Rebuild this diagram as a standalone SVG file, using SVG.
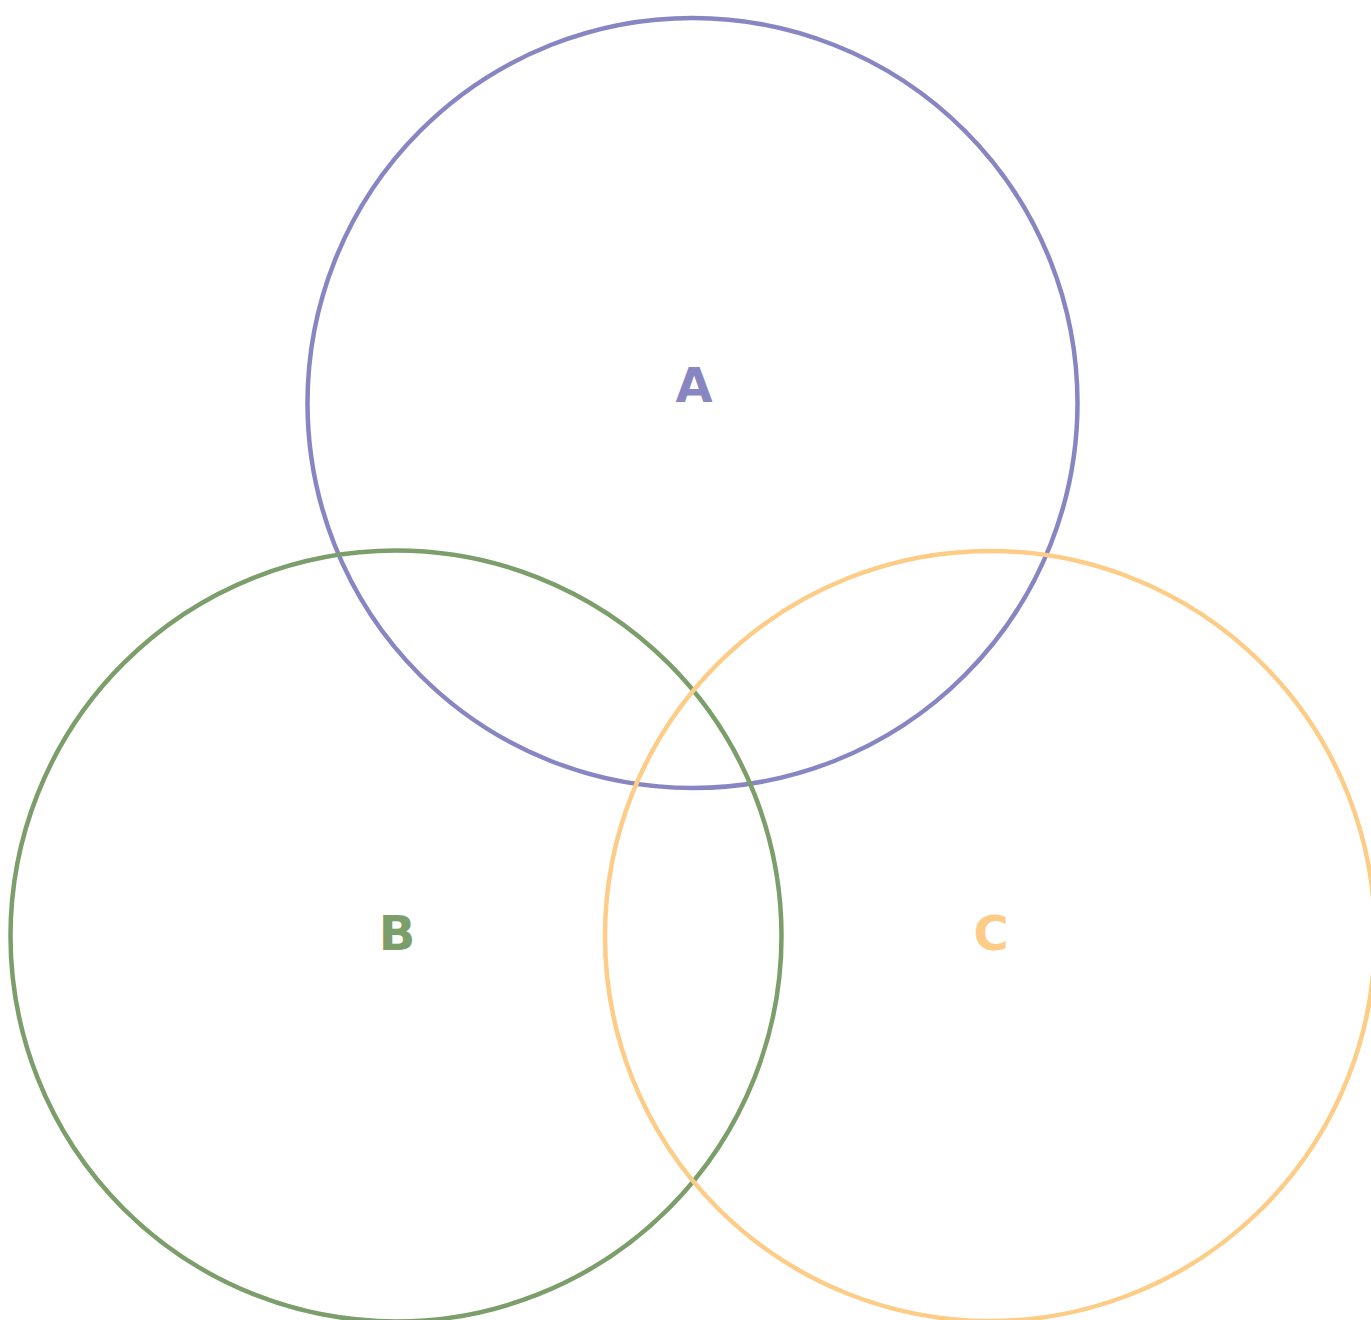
<svg xmlns="http://www.w3.org/2000/svg" width="1371" height="1320" viewBox="0 0 1371 1320">
<style>
.c{fill:none;stroke-width:4.5}
.t{font-family:"DejaVu Sans",sans-serif;font-weight:bold;font-size:48px;text-anchor:middle}
</style>
<rect width="1371" height="1320" fill="#ffffff"/>
<g id="A"><circle class="c" cx="692.5" cy="403" r="385" stroke="#8886c2"/><text class="t" x="694" y="402" fill="#8886c2">A</text></g>
<g id="B"><circle class="c" cx="396" cy="936" r="385.5" stroke="#7c9e6a"/><text class="t" x="397" y="950" fill="#7c9e6a">B</text></g>
<g id="C"><circle class="c" cx="990" cy="936" r="385" stroke="#fdcd88"/><text class="t" x="991" y="950" fill="#fdcd88">C</text></g>
<g id="connectors"/>
</svg>
